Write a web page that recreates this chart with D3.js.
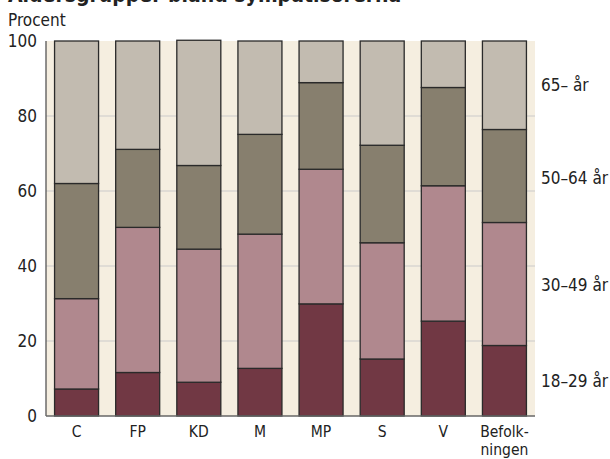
<!DOCTYPE html>
<html><head><meta charset="utf-8">
<script src="https://cdn.jsdelivr.net/npm/d3@7"></script>
<style>
body{margin:0;background:#fff;}
text{font-family:"DejaVu Sans Condensed","Liberation Sans",sans-serif;fill:#222;}
</style></head>
<body><svg id="c" width="610" height="459"></svg>
<script>
const categories = ["C","FP","KD","M","MP","S","V","Befolkningen"];
const categoryLabels = [["C"],["FP"],["KD"],["M"],["MP"],["S"],["V"],["Befolk-","ningen"]];
const ageGroups = ["18–29 år","30–49 år","50–64 år","65– år"];
const age18_29 = [7.2, 11.6, 9.0, 12.7, 29.9, 15.2, 25.3, 18.8];
const age30_49 = [24.1, 38.7, 35.5, 35.8, 35.9, 31.0, 36.1, 32.8];
const age50_64 = [30.7, 20.8, 22.3, 26.6, 23.1, 26.0, 26.2, 24.8];
const age65 = [38.0, 28.9, 33.4, 24.9, 11.1, 27.8, 12.4, 23.6];
const yTicks = [0,20,40,60,80,100];
const colors = ["#713844","#b0888e","#877f6e","#c2bbb0"];

(function(){
const svg = d3.select("#c");
const pl = 46, pr = 535, pt = 41, pb = 416;
const x = d3.scaleBand().domain(categories).range([pl,pr]).paddingInner(0.28).paddingOuter(0.14);
const y = d3.scaleLinear().domain([0,100]).range([pb,pt]);

svg.append("text").attr("x",8).attr("y",2).attr("font-size",21).attr("font-weight","bold")
  .text("Åldersgrupper bland sympatisörerna");

svg.append("rect").attr("x",pl).attr("y",pt).attr("width",pr-pl).attr("height",pb-pt).attr("fill","#f5eee0");

svg.append("g").selectAll("line").data(yTicks.filter(d=>d>0&&d<100)).join("line")
  .attr("x1",pl).attr("x2",pr).attr("y1",d=>y(d)).attr("y2",d=>y(d))
  .attr("stroke","#d9d6d2").attr("stroke-width",1.5);

const series = [age18_29, age30_49, age50_64, age65];
const rows = categories.map((c,i)=>{const o={cat:c}; ageGroups.forEach((g,j)=>o[g]=series[j][i]); return o;});
const stacked = d3.stack().keys(ageGroups)(rows);

svg.append("g").selectAll("g").data(stacked).join("g").attr("fill",(d,i)=>colors[i])
  .selectAll("rect").data(d=>d).join("rect")
  .attr("x",d=>x(d.data.cat)).attr("width",x.bandwidth())
  .attr("y",d=>y(d[1])).attr("height",d=>y(d[0])-y(d[1]))
  .attr("stroke","#2a2a2a").attr("stroke-width",1.3);

svg.append("line").attr("x1",pl).attr("x2",pl).attr("y1",pt).attr("y2",pb).attr("stroke","#555").attr("stroke-width",1.3);
svg.append("line").attr("x1",pl).attr("x2",pr).attr("y1",pb).attr("y2",pb).attr("stroke","#666").attr("stroke-width",1.5);

svg.append("g").selectAll("text").data(yTicks).join("text")
  .attr("x",37).attr("y",d=>y(d)+6).attr("text-anchor","end").attr("font-size",17).text(d=>d);

svg.append("text").attr("x",8).attr("y",26).attr("font-size",17).text("Procent");

const lbl = [];
categories.forEach((c,i)=>categoryLabels[i].forEach((t,j)=>lbl.push({c,t,j})));
svg.append("g").selectAll("text").data(lbl).join("text")
  .attr("x",d=>x(d.c)+x.bandwidth()/2).attr("y",d=>437+d.j*18).attr("text-anchor","middle")
  .attr("font-size",15.5).text(d=>d.t);

const legendY = [381, 285, 178, 85];
svg.append("g").selectAll("text").data(ageGroups).join("text")
  .attr("x",541).attr("y",(d,i)=>legendY[i]+6).attr("font-size",17).text(d=>d);
})();
</script></body></html>
